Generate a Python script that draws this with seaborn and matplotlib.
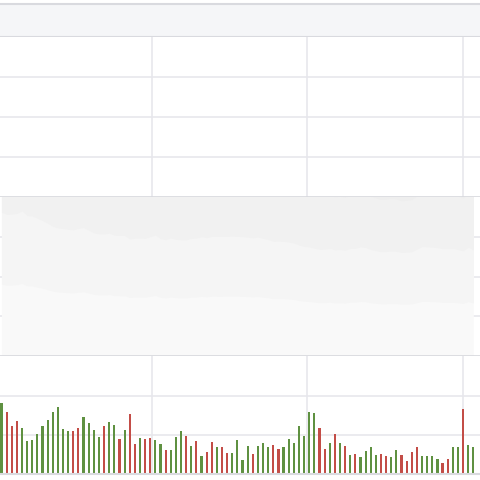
import matplotlib.pyplot as plt
import seaborn as sns
import numpy as np
import pandas as pd

sns.set_style('white')

# Price line (height above the volume panel)
price = [863, 850, 851, 856, 871, 842, 840, 826, 813, 796, 778, 768, 765, 760, 757, 766,
         770, 755, 739, 733, 732, 737, 725, 723, 723, 702, 707, 708, 706, 716, 726, 704,
         698, 708, 700, 697, 697, 706, 707, 716, 710, 718, 717, 717, 718, 719, 718, 716,
         713, 709, 714, 706, 699, 688, 689, 688, 684, 678, 666, 658, 654, 647, 640, 641,
         646, 637, 639, 635, 646, 646, 655, 651, 639, 632, 626, 627, 630, 628, 621, 623,
         625, 641, 657, 655, 653, 650, 644, 644, 645, 639, 631, 653, 636]

# Volume bars
volume = [212, 187, 145, 159, 137, 99, 101, 119, 145, 162, 185, 202, 136, 130, 129, 137,
          172, 152, 133, 111, 145, 155, 147, 105, 133, 180, 90, 109, 106, 107, 103, 89,
          71, 73, 112, 130, 114, 83, 98, 53, 65, 95, 80, 82, 63, 62, 103,
          42, 85, 59, 85, 93, 82, 88, 76, 80, 106, 93, 144, 114, 186, 182, 138,
          76, 93, 119, 93, 84, 56, 59, 52, 70, 81, 58, 60, 54, 52, 71, 56,
          39, 67, 81, 54, 54, 55, 44, 34, 45, 81, 81, 194, 86, 82]
up = [1, 0, 0, 0, 1, 1, 1, 1, 1, 1, 1, 1, 1, 1, 0, 0,
      1, 1, 1, 1, 0, 1, 1, 0, 1, 0, 0, 1, 0, 0, 1, 1,
      0, 1, 1, 1, 0, 1, 0, 1, 0, 0, 1, 0, 0, 1, 1,
      1, 1, 0, 1, 1, 1, 0, 0, 1, 1, 1, 1, 1, 1, 1, 0,
      0, 1, 0, 1, 0, 1, 0, 1, 1, 1, 1, 0, 0, 1, 1, 0,
      0, 0, 0, 1, 1, 1, 1, 0, 0, 1, 1, 0, 1, 1]

n = len(volume)
df = pd.DataFrame({'i': np.arange(n), 'price': price, 'volume': volume,
                   'dir': ['up' if u else 'down' for u in up]})

grid_c = '#e7e7ec'
edge_c = '#d9dadf'
xgrid = [29.3, 59.5, 90.0]
xlim = (-0.29, 93.3)

fig = plt.figure(figsize=(4.8, 4.8), dpi=100)

def frame(y0, y1):
    return [0, 1 - y1 / 480, 1, (y1 - y0) / 480]

# header band
hdr = fig.add_axes(frame(4, 37))
hdr.set_facecolor('#f5f6f8')
hdr.set_xticks([]); hdr.set_yticks([])
for s in ['left', 'right']:
    hdr.spines[s].set_visible(False)
for s in ['top', 'bottom']:
    hdr.spines[s].set_color(edge_c); hdr.spines[s].set_linewidth(1.5)

def style(ax, yticks, ylim):
    ax.set_xlim(*xlim)
    ax.set_ylim(*ylim)
    ax.set_xticks(xgrid)
    ax.set_yticks(yticks)
    ax.tick_params(length=0, labelbottom=False, labelleft=False)
    ax.grid(True, color=grid_c, linewidth=1.2)
    ax.set_axisbelow(True)
    ax.set_xlabel(''); ax.set_ylabel('')
    for s in ['left', 'right', 'top']:
        ax.spines[s].set_visible(False)
    ax.spines['bottom'].set_color(edge_c)
    ax.spines['bottom'].set_linewidth(2)

top = fig.add_axes(frame(37, 197))
style(top, [1, 2, 3], (0, 4))

pa = fig.add_axes(frame(197, 356))
# soft fill under the line, fading toward the bottom
for k, c in enumerate(['#f9f9f9', '#f5f5f5', '#f1f1f1', '#eeeeee']):
    frac = k / 4
    lo = [p * frac for p in price]
    pa.fill_between(df['i'], df['price'], lo, color=c, linewidth=0, zorder=1)
sns.lineplot(data=df, x='i', y='price', ax=pa, color='#6a6a6a', linewidth=1.4, zorder=3)
style(pa, [119.25, 238.5, 357.75], (0, 477))

va = fig.add_axes(frame(356, 474))
sns.barplot(data=df, x='i', y='volume', hue='dir', dodge=False,
            palette={'up': '#5c9e34', 'down': '#d83a32'}, width=0.42, legend=False,
            linewidth=0, ax=va)
style(va, [117, 234], (0, 354))
va.spines['bottom'].set_linewidth(1.5)

fig.savefig('out.png', dpi=100)
